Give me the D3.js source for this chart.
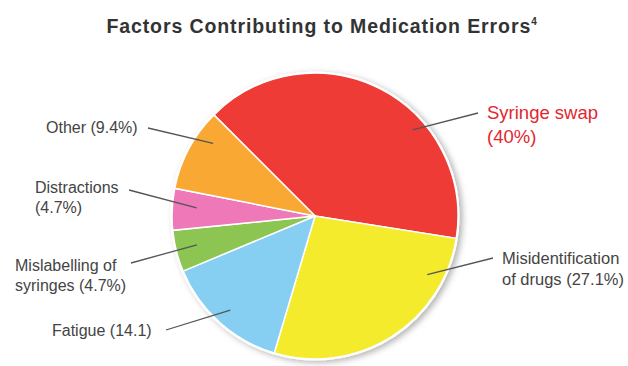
<!DOCTYPE html>
<html>
<head>
<meta charset="utf-8">
<script src="https://cdn.jsdelivr.net/npm/d3@7"></script>
<style>
  body { margin: 0; background: #fff; }
  svg { display: block; font-family: "Liberation Sans", Arial, sans-serif; }
</style>
</head>
<body>
<svg id="chart" width="628" height="366"></svg>
<script>
const categories = ["Syringe swap", "Misidentification of drugs", "Fatigue", "Mislabelling of syringes", "Distractions", "Other"];
const values = [40, 27.1, 14.1, 4.7, 4.7, 9.4];
const colors = ["#ee3b35", "#f4eb2c", "#86cff2", "#8cc552", "#ee78b8", "#f8a833"];
// label text lines, as printed in the source
const labelLines = [
  ["Syringe swap", "(40%)"],
  ["Misidentification", "of drugs (27.1%)"],
  ["Fatigue (14.1)"],
  ["Mislabelling of", "syringes (4.7%)"],
  ["Distractions", "(4.7%)"],
  ["Other (9.4%)"]
];

const svg = d3.select("#chart");
const cx = 315, cy = 216, radius = 143;

// title
const title = svg.append("text")
  .attr("x", 322).attr("y", 33)
  .attr("text-anchor", "middle")
  .attr("font-size", 19.5).attr("font-weight", "bold").attr("fill", "#333")
  .attr("letter-spacing", 0.9);
title.append("tspan").text("Factors Contributing to Medication Errors");
title.append("tspan").text("4").attr("font-size", 10).attr("dy", -8);

const defs = svg.append("defs");
const f = defs.append("filter").attr("id", "shadow")
  .attr("x", "-20%").attr("y", "-20%").attr("width", "140%").attr("height", "140%");
f.append("feDropShadow").attr("dx", 3).attr("dy", 2).attr("stdDeviation", 3)
  .attr("flood-color", "#000").attr("flood-opacity", 0.3);

const pie = d3.pie().sort(null)
  .startAngle(-Math.PI / 4).endAngle(2 * Math.PI - Math.PI / 4);
const arcs = pie(values);
const arc = d3.arc().innerRadius(0).outerRadius(radius);

const g = svg.append("g").attr("transform", `translate(${cx},${cy})`);
g.append("circle").attr("r", radius + 1.5).attr("fill", "#fff").attr("filter", "url(#shadow)");
g.selectAll("path").data(arcs).enter().append("path")
  .attr("d", arc)
  .attr("fill", (d, i) => colors[i])
  .attr("stroke", "#fff").attr("stroke-width", 1.5);

// label placement: text anchor point and leader start
const labelPos = [
  {x: 487, y: 119, lh: 24, size: 18.5, fill: "#e3262f", lx: 478, ly: 113},
  {x: 502, y: 264, lh: 21, size: 16.5, fill: "#444", lx: 493, ly: 258},
  {x: 52, y: 336, lh: 20, size: 16, fill: "#444", lx: 166, ly: 330},
  {x: 15, y: 271, lh: 20, size: 16, fill: "#444", lx: 131, ly: 263},
  {x: 35, y: 193, lh: 20, size: 16, fill: "#444", lx: 129, ly: 190},
  {x: 46, y: 133, lh: 20, size: 16, fill: "#444", lx: 148, ly: 128}
];
// leader end inside the slice: fraction along the slice angle, fraction of radius
const leaderT = [0.65, 0.19, 0.5, 0.53, 0.57, 0.72];
const leaderR = [0.91, 0.885, 0.886, 0.85, 0.83, 0.875];
const leaderEnd = (d, i) => d3.pointRadial(
  d.startAngle + leaderT[i] * (d.endAngle - d.startAngle), radius * leaderR[i]);

svg.append("g").selectAll("line").data(arcs).enter().append("line")
  .attr("x1", (d, i) => labelPos[i].lx).attr("y1", (d, i) => labelPos[i].ly)
  .attr("x2", (d, i) => cx + leaderEnd(d, i)[0])
  .attr("y2", (d, i) => cy + leaderEnd(d, i)[1])
  .attr("stroke", "#555").attr("stroke-width", 1.3);

const labels = svg.append("g").selectAll("text").data(categories).enter().append("text")
  .attr("x", (d, i) => labelPos[i].x).attr("y", (d, i) => labelPos[i].y)
  .attr("font-size", (d, i) => labelPos[i].size)
  .attr("fill", (d, i) => labelPos[i].fill);
labels.each(function(d, i) {
  d3.select(this).selectAll("tspan").data(labelLines[i]).enter().append("tspan")
    .attr("x", labelPos[i].x)
    .attr("dy", (t, j) => j === 0 ? 0 : labelPos[i].lh)
    .text(t => t);
});
</script>
</body>
</html>
